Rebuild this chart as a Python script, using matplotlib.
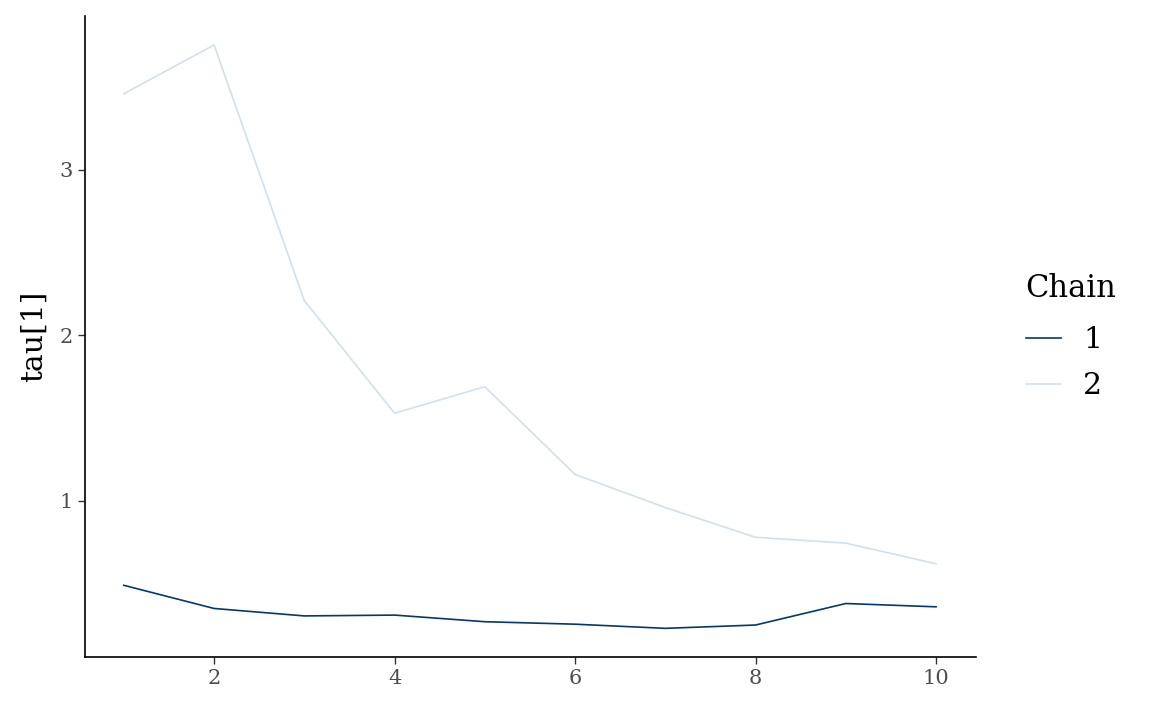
import matplotlib as mpl
mpl.use('Agg')

import matplotlib.pyplot as plt

# trace values
iteration = [1, 2, 3, 4, 5, 6, 7, 8, 9, 10]
chain1 = [0.49, 0.35, 0.305, 0.31, 0.27, 0.255, 0.23, 0.25, 0.38, 0.36]
chain2 = [3.46, 3.755, 2.21, 1.53, 1.69, 1.16, 0.96, 0.78, 0.745, 0.62]
chain_labels = ['1', '2']
chain_colors = ['#03396c', '#d1e1ec']

plt.rcParams['font.family'] = ['DejaVu Serif']

fig = plt.figure(figsize=(11.52, 7.11), dpi=100)
ax = fig.add_axes([0.0738, 0.076, 0.7732, 0.9015])

for vals, lab, col in zip([chain1, chain2], chain_labels, chain_colors):
    ax.plot(iteration, vals, color=col, lw=1.2, label=lab)

ax.set_xlim(0.57, 10.44)
ax.set_ylim(0.057, 3.93)
ax.set_xticks([2, 4, 6, 8, 10])
ax.set_yticks([1, 2, 3])

for s in ['top', 'right']:
    ax.spines[s].set_visible(False)
for s in ['left', 'bottom']:
    ax.spines[s].set_linewidth(1.2)
    ax.spines[s].set_color('black')

ax.tick_params(axis='both', length=5, width=1.0, color='#333333',
               labelcolor='#4d4d4d', labelsize=15, pad=4)
ax.set_ylabel('tau[1]', fontsize=21.5, labelpad=8)

leg = ax.legend(title='Chain', loc='center left', bbox_to_anchor=(1.056, 0.5),
                frameon=False, fontsize=21.5, title_fontsize=22,
                handlelength=1.2, handletextpad=0.72, labelspacing=0.6,
                borderpad=0, borderaxespad=0)
leg._legend_box.align = 'left'
leg._legend_box.sep = 16

fig.savefig('out.png', dpi=100)
